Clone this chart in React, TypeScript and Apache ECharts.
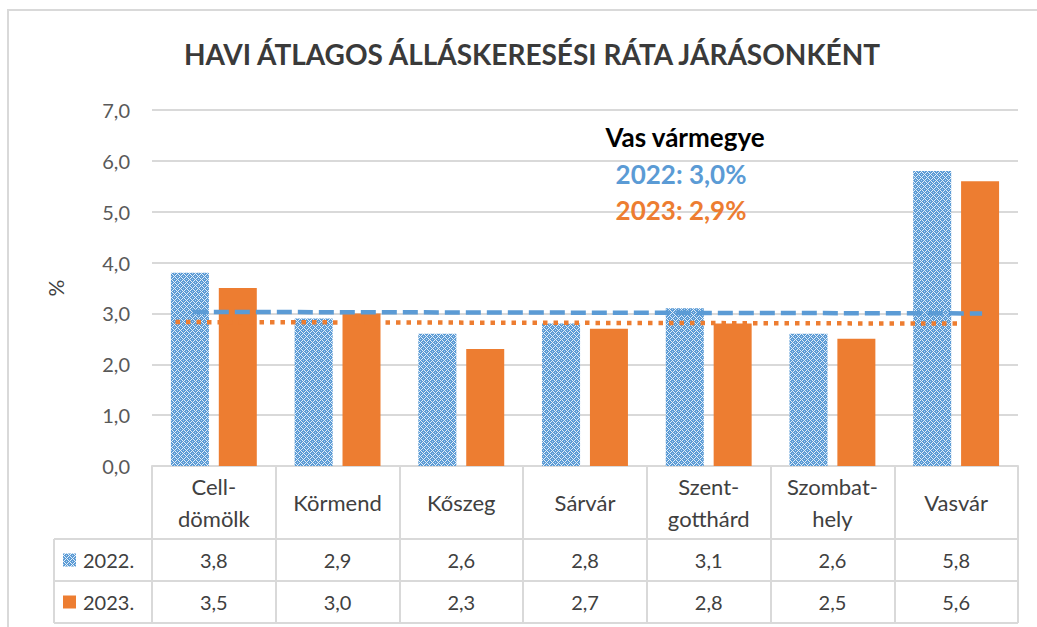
import React, { useEffect, useRef } from 'react';
import * as echarts from 'echarts';

// ---- data ----
const categories = ['Cell-\ndömölk', 'Körmend', 'Kőszeg', 'Sárvár', 'Szent-\ngotthárd', 'Szombat-\nhely', 'Vasvár'];
const seriesNames = ['2022.', '2023.'];
const values2022 = [3.8, 2.9, 2.6, 2.8, 3.1, 2.6, 5.8];
const values2023 = [3.5, 3.0, 2.3, 2.7, 2.8, 2.5, 5.6];
const yMin = 0;
const yMax = 7;
const yInterval = 1;
const chartTitle = 'HAVI ÁTLAGOS ÁLLÁSKERESÉSI RÁTA JÁRÁSONKÉNT';
const countyTitle = 'Vas vármegye';
const countyYears = ['2022', '2023'];
const countyAvg = [3.0, 2.9];
// county average reference lines: [category-position, value]
const countyLine2022 = [[-0.17, 3.03], [6.21, 3.0]];
const countyLine2023 = [[-0.31, 2.83], [6.1, 2.8]];

// ---- style / layout ----
const FONT = 'Lato, "Noto Sans", sans-serif';
const BLUE = '#5b9bd5';
const ORANGE = '#ed7d31';
const GRID_COLOR = '#d9d9d9';
const TEXT = '#404040';
const PLOT_L = 152, PLOT_R = 1018, PLOT_T = 110, PLOT_B = 466;
const ROW1_B = 539, ROW2_B = 581, ROW3_B = 623;
const TABLE_L = 54;

const fmt = (v: number) => v.toFixed(1).replace('.', ',');

function makePattern() {
  const c = document.createElement('canvas');
  c.width = 6; c.height = 6;
  const ctx = c.getContext('2d')!;
  const img = ctx.createImageData(6, 6);
  for (let y = 0; y < 6; y++) {
    for (let x = 0; x < 6; x++) {
      const white = (x + y) % 6 === 0 || (x - y + 6) % 6 === 0;
      const light = (x === 3 && y === 0) || (x === 0 && y === 3);
      const i = (y * 6 + x) * 4;
      if (white) { img.data[i] = 0xe4; img.data[i + 1] = 0xef; img.data[i + 2] = 0xf9; }
      else if (light) { img.data[i] = 0xb4; img.data[i + 1] = 0xd2; img.data[i + 2] = 0xee; }
      else { img.data[i] = 0x5b; img.data[i + 1] = 0x9b; img.data[i + 2] = 0xd5; }
      img.data[i + 3] = 255;
    }
  }
  ctx.putImageData(img, 0, 0);
  return c;
}

export default function App() {
  const ref = useRef<HTMLDivElement>(null);
  useEffect(() => {
    if (!ref.current) return;
    const chart = echarts.init(ref.current, null, { renderer: 'svg' });
    const pattern = { image: makePattern(), repeat: 'repeat' } as any;
    const colW = (PLOT_R - PLOT_L) / categories.length;
    const rowsData = [values2022, values2023];
    const rowMid = [(ROW1_B + ROW2_B) / 2, (ROW2_B + ROW3_B) / 2];
    const txt = (x: number, y: number, text: string, font: string, fill: string, align: string) => ({
      type: 'text', x, y, z: 10,
      style: { text, font, fill, stroke: 'none', lineWidth: 0, textAlign: align, textVerticalAlign: 'middle' },
    });

    const graphics: any[] = [
      { type: 'rect', shape: { x: 8, y: 10, width: 1100, height: 700 }, style: { fill: 'none', stroke: GRID_COLOR, lineWidth: 2 }, z: 0 },
      { type: 'line', shape: { x1: TABLE_L, y1: ROW1_B, x2: PLOT_R, y2: ROW1_B }, style: { stroke: GRID_COLOR, lineWidth: 2 } },
      { type: 'line', shape: { x1: TABLE_L, y1: ROW2_B, x2: PLOT_R, y2: ROW2_B }, style: { stroke: GRID_COLOR, lineWidth: 2 } },
      { type: 'line', shape: { x1: TABLE_L, y1: ROW3_B, x2: PLOT_R, y2: ROW3_B }, style: { stroke: GRID_COLOR, lineWidth: 2 } },
      { type: 'line', shape: { x1: TABLE_L, y1: ROW1_B, x2: TABLE_L, y2: ROW3_B }, style: { stroke: GRID_COLOR, lineWidth: 2 } },
      { type: 'rect', shape: { x: 63, y: rowMid[0] - 6.5, width: 13, height: 13 }, style: { fill: pattern } },
      { type: 'rect', shape: { x: 63, y: rowMid[1] - 6.5, width: 13, height: 13 }, style: { fill: ORANGE } },
      txt(83, rowMid[0], seriesNames[0], `20px ${FONT}`, TEXT, 'left'),
      txt(83, rowMid[1], seriesNames[1], `20px ${FONT}`, TEXT, 'left'),
      txt(685, 137, countyTitle, `bold 26px ${FONT}`, '#000', 'center'),
      txt(681, 174, `${countyYears[0]}: ${fmt(countyAvg[0])}%`, `bold 26px ${FONT}`, BLUE, 'center'),
      txt(681, 210, `${countyYears[1]}: ${fmt(countyAvg[1])}%`, `bold 26px ${FONT}`, ORANGE, 'center'),
    ];
    rowsData.forEach((row, r) => {
      row.forEach((v, i) => {
        graphics.push(txt(PLOT_L + (i + 0.5) * colW, rowMid[r], fmt(v), `20px ${FONT}`, TEXT, 'center'));
      });
    });

    chart.setOption({
      animation: false,
      backgroundColor: '#ffffff',
      textStyle: { fontFamily: FONT },
      title: {
        text: chartTitle, left: 527, top: 35, textAlign: 'center',
        textStyle: { fontSize: 28, fontWeight: 'bold', color: '#3a3a3a', fontFamily: FONT },
      },
      grid: { left: PLOT_L, right: 1037 - PLOT_R, top: PLOT_T, bottom: 627 - PLOT_B },
      xAxis: [
        {
          type: 'category', data: categories,
          axisLine: { lineStyle: { color: GRID_COLOR, width: 2 } },
          axisTick: { show: true, length: ROW3_B - PLOT_B, lineStyle: { color: GRID_COLOR, width: 2 } },
          axisLabel: { interval: 0, margin: 36, verticalAlign: 'middle', lineHeight: 32, fontSize: 22, color: TEXT, fontFamily: FONT },
        },
        { type: 'value', min: -0.5, max: 6.5, show: false },
      ],
      yAxis: {
        type: 'value', min: yMin, max: yMax, interval: yInterval,
        axisLabel: { formatter: fmt, fontSize: 20, color: '#595959', margin: 22, fontFamily: FONT },
        splitLine: { lineStyle: { color: GRID_COLOR, width: 2 } },
        axisLine: { show: false }, axisTick: { show: false },
        name: '%', nameLocation: 'middle', nameGap: 86, nameRotate: 90,
        nameTextStyle: { fontSize: 21, color: TEXT, fontFamily: FONT },
      },
      series: [
        { name: seriesNames[0], type: 'bar', data: values2022, barWidth: 38, barGap: '26%', itemStyle: { color: pattern } },
        { name: seriesNames[1], type: 'bar', data: values2023, barWidth: 38, itemStyle: { color: ORANGE } },
        {
          type: 'line', xAxisIndex: 1, data: countyLine2022, symbol: 'none', z: 5,
          lineStyle: { color: BLUE, width: 4.5, type: [15, 6] },
        },
        {
          type: 'line', xAxisIndex: 1, data: countyLine2023, symbol: 'none', z: 4,
          lineStyle: { color: ORANGE, width: 4.5, type: [4.5, 6] },
        },
      ],
      graphic: graphics,
    });
    return () => chart.dispose();
  }, []);
  return <div ref={ref} style={{ position: 'fixed', left: 0, top: 0, width: 1037, height: 627 }} />;
}
